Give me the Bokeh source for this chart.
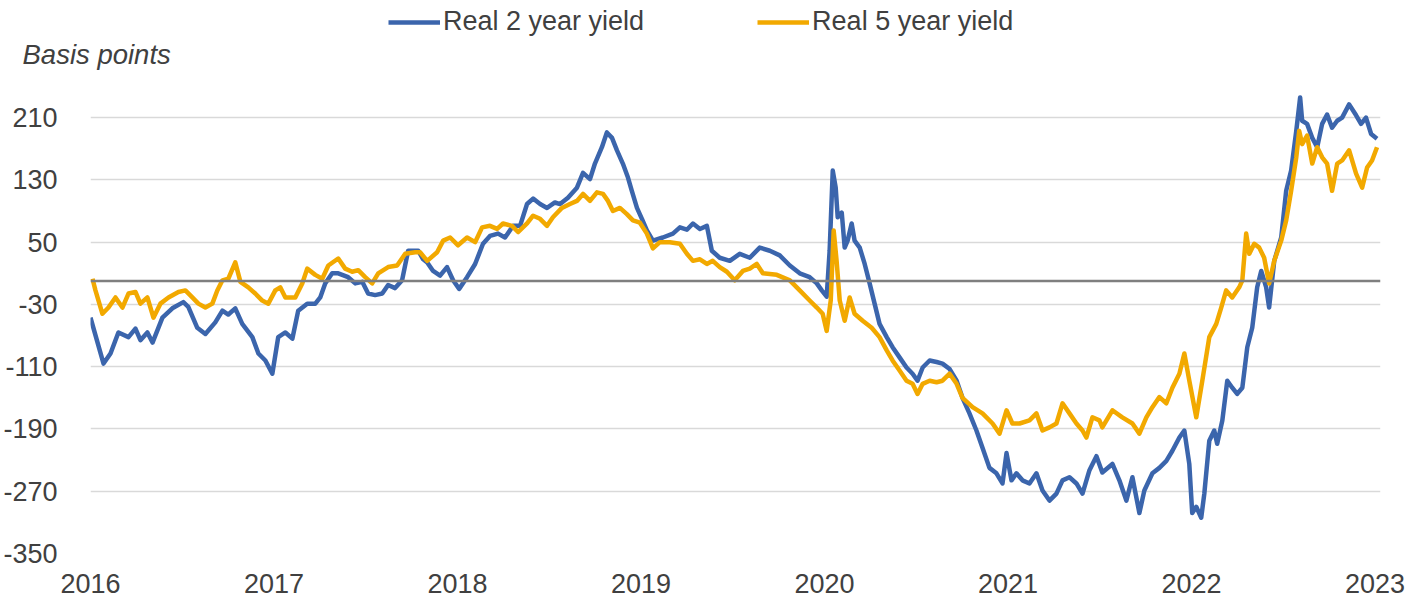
from bokeh.plotting import figure
from bokeh.layouts import column
from bokeh.models import (ColumnDataSource, FixedTicker, Span, Legend, LegendItem, Label, Range1d)
from bokeh.embed import file_html
from bokeh.resources import INLINE

# ---------------- data (decimal years, basis points) ----------------
years_2y = [2016.000, 2016.071, 2016.109, 2016.152, 2016.207, 2016.245, 2016.272, 2016.310, 2016.338, 2016.392,
            2016.446, 2016.506, 2016.533, 2016.582, 2016.626, 2016.680, 2016.719, 2016.751, 2016.789, 2016.827,
            2016.882, 2016.915, 2016.953, 2016.991, 2017.023, 2017.062, 2017.100, 2017.132, 2017.181, 2017.225,
            2017.252, 2017.279, 2017.317, 2017.350, 2017.404, 2017.443, 2017.481, 2017.513, 2017.551, 2017.590,
            2017.622, 2017.660, 2017.698, 2017.731, 2017.786, 2017.813, 2017.835, 2017.867, 2017.905, 2017.943,
            2017.976, 2018.009, 2018.052, 2018.096, 2018.139, 2018.177, 2018.221, 2018.259, 2018.303, 2018.341,
            2018.379, 2018.412, 2018.450, 2018.488, 2018.531, 2018.559, 2018.602, 2018.651, 2018.684, 2018.722,
            2018.749, 2018.787, 2018.814, 2018.842, 2018.869, 2018.901, 2018.929, 2018.950, 2018.978, 2019.005,
            2019.032, 2019.065, 2019.119, 2019.174, 2019.212, 2019.250, 2019.283, 2019.321, 2019.359, 2019.386,
            2019.429, 2019.484, 2019.538, 2019.593, 2019.647, 2019.702, 2019.756, 2019.811, 2019.865, 2019.919,
            2019.958, 2019.985, 2020.012, 2020.028, 2020.045, 2020.061, 2020.072, 2020.094, 2020.110, 2020.126,
            2020.148, 2020.164, 2020.192, 2020.219, 2020.246, 2020.273, 2020.300, 2020.339, 2020.371, 2020.409,
            2020.447, 2020.480, 2020.507, 2020.535, 2020.573, 2020.611, 2020.643, 2020.682, 2020.720, 2020.752,
            2020.790, 2020.828, 2020.861, 2020.899, 2020.937, 2020.970, 2020.992, 2021.019, 2021.046, 2021.079,
            2021.117, 2021.155, 2021.188, 2021.226, 2021.264, 2021.297, 2021.335, 2021.373, 2021.406, 2021.444,
            2021.482, 2021.514, 2021.569, 2021.607, 2021.645, 2021.678, 2021.716, 2021.743, 2021.787, 2021.825,
            2021.863, 2021.896, 2021.934, 2021.961, 2021.988, 2022.004, 2022.026, 2022.053, 2022.070, 2022.097,
            2022.124, 2022.140, 2022.168, 2022.195, 2022.222, 2022.249, 2022.277, 2022.304, 2022.331, 2022.358,
            2022.380, 2022.407, 2022.423, 2022.451, 2022.489, 2022.516, 2022.543, 2022.571, 2022.592, 2022.603,
            2022.630, 2022.658, 2022.685, 2022.712, 2022.739, 2022.766, 2022.794, 2022.821, 2022.859, 2022.897,
            2022.924, 2022.951, 2022.979, 2023.011]
real_2y = [-47, -106, -93, -66, -72, -61, -76, -66, -79, -47,
           -35, -27, -33, -60, -68, -53, -38, -43, -35, -55,
           -72, -93, -102, -119, -72, -66, -74, -38, -29, -29,
           -21, -3, 10, 10, 5, -3, -1, -16, -18, -16,
           -5, -9, 1, 39, 39, 28, 24, 13, 7, 18,
           1, -10, 5, 22, 48, 58, 61, 56, 71, 71,
           99, 106, 99, 94, 101, 99, 107, 120, 139, 131,
           151, 172, 191, 184, 168, 151, 133, 116, 94, 80,
           65, 52, 56, 61, 69, 66, 74, 67, 71, 39,
           30, 26, 35, 30, 43, 39, 33, 20, 10, 5,
           -3, -12, -20, 39, 142, 120, 82, 88, 43, 52,
           74, 52, 43, 22, -3, -29, -55, -72, -85, -98,
           -111, -119, -128, -111, -102, -104, -106, -113, -128, -150,
           -170, -192, -214, -240, -247, -260, -221, -256, -247, -256,
           -260, -247, -269, -282, -273, -256, -252, -260, -273, -243,
           -225, -246, -235, -256, -282, -252, -298, -269, -247, -240,
           -231, -218, -201, -192, -235, -298, -290, -304, -273, -205,
           -192, -209, -179, -128, -137, -145, -137, -85, -60, -8,
           13, -8, -34, 26, 56, 116, 142, 193, 236, 206,
           202, 184, 172, 202, 214, 197, 206, 210, 227, 213,
           202, 210, 189, 183]

years_5y = [2016.011, 2016.027, 2016.065, 2016.098, 2016.136, 2016.174, 2016.207, 2016.245, 2016.272, 2016.310,
            2016.343, 2016.381, 2016.425, 2016.479, 2016.517, 2016.555, 2016.588, 2016.626, 2016.664, 2016.691,
            2016.719, 2016.751, 2016.789, 2016.817, 2016.860, 2016.898, 2016.936, 2016.969, 2017.007, 2017.034,
            2017.062, 2017.116, 2017.154, 2017.181, 2017.225, 2017.263, 2017.296, 2017.350, 2017.388, 2017.426,
            2017.459, 2017.497, 2017.535, 2017.568, 2017.622, 2017.671, 2017.715, 2017.769, 2017.796, 2017.835,
            2017.889, 2017.922, 2017.960, 2018.003, 2018.052, 2018.096, 2018.134, 2018.177, 2018.216, 2018.248,
            2018.297, 2018.330, 2018.379, 2018.412, 2018.450, 2018.488, 2018.520, 2018.569, 2018.613, 2018.651,
            2018.684, 2018.722, 2018.760, 2018.793, 2018.820, 2018.847, 2018.885, 2018.923, 2018.956, 2018.994,
            2019.032, 2019.065, 2019.103, 2019.157, 2019.212, 2019.250, 2019.283, 2019.321, 2019.359, 2019.391,
            2019.429, 2019.468, 2019.511, 2019.555, 2019.593, 2019.631, 2019.664, 2019.740, 2019.811, 2019.865,
            2019.919, 2019.958, 2019.990, 2020.012, 2020.034, 2020.050, 2020.066, 2020.083, 2020.110, 2020.137,
            2020.164, 2020.208, 2020.257, 2020.300, 2020.339, 2020.371, 2020.409, 2020.447, 2020.480, 2020.507,
            2020.535, 2020.573, 2020.611, 2020.643, 2020.682, 2020.720, 2020.752, 2020.807, 2020.861, 2020.916,
            2020.954, 2020.992, 2021.024, 2021.063, 2021.117, 2021.155, 2021.188, 2021.226, 2021.264, 2021.297,
            2021.335, 2021.373, 2021.406, 2021.427, 2021.460, 2021.498, 2021.514, 2021.569, 2021.623, 2021.678,
            2021.716, 2021.754, 2021.787, 2021.825, 2021.863, 2021.896, 2021.934, 2021.961, 2021.988, 2022.026,
            2022.059, 2022.097, 2022.135, 2022.162, 2022.189, 2022.222, 2022.260, 2022.277, 2022.298, 2022.315,
            2022.342, 2022.369, 2022.396, 2022.423, 2022.451, 2022.489, 2022.516, 2022.543, 2022.571, 2022.587,
            2022.603, 2022.630, 2022.658, 2022.685, 2022.712, 2022.739, 2022.766, 2022.794, 2022.821, 2022.859,
            2022.897, 2022.930, 2022.957, 2022.984, 2023.011]
real_5y = [3, -12, -42, -34, -21, -34, -16, -14, -29, -21,
           -47, -29, -21, -14, -12, -21, -29, -34, -29, -12,
           1, 3, 24, -1, -8, -16, -25, -29, -12, -8,
           -21, -21, -3, 16, 8, 3, 20, 29, 16, 12,
           14, 5, -3, 10, 18, 20, 35, 37, 37, 26,
           37, 52, 56, 46, 56, 50, 69, 71, 67, 74,
           71, 63, 74, 84, 80, 71, 82, 94, 99, 103,
           112, 103, 114, 112, 103, 90, 94, 86, 78, 75,
           61, 42, 50, 50, 48, 35, 26, 28, 22, 26,
           18, 12, 1, 13, 16, 22, 10, 8, 1, -12,
           -25, -34, -42, -64, -25, 65, 26, -25, -51, -21,
           -42, -51, -60, -72, -89, -102, -115, -128, -132, -145,
           -132, -128, -130, -128, -119, -132, -150, -162, -170, -183,
           -196, -166, -183, -183, -179, -170, -192, -188, -183, -157,
           -170, -183, -192, -201, -175, -179, -188, -166, -175, -183,
           -196, -175, -162, -149, -157, -137, -119, -93, -128, -175,
           -128, -72, -55, -34, -12, -21, -8, 1, 61, 35,
           48, 43, 30, -3, 26, 52, 78, 116, 159, 193,
           176, 187, 151, 172, 159, 151, 116, 151, 155, 168,
           138, 120, 146, 155, 172]

year_ticks = [2016, 2017, 2018, 2019, 2020, 2021, 2022, 2023]
bp_ticks = [210, 130, 50, -30, -110, -190, -270, -350]
bp_tick_labels = ["210", "130", "50", "-30", "-110", "-190", "-270", "-350"]
series_names = ["Real 2 year yield", "Real 5 year yield"]
axis_title = "Basis points"

# ---------------- styling ----------------
BLUE = "#3B65AC"
ORANGE = "#F2A900"
TEXT = "#404040"
FONT = "Liberation Sans"
LW = 4.5
NAN = float("nan")

# ---------------- header strip: legend + unit label ----------------
head = figure(width=1421, height=86, output_backend="svg", toolbar_location=None,
              x_range=Range1d(0, 1421), y_range=Range1d(86, 0),
              x_axis_type=None, y_axis_type=None,
              min_border_left=0, min_border_right=0, min_border_top=0, min_border_bottom=0,
              background_fill_color="white", border_fill_color="white")
head.frame_align = False
head.outline_line_color = None
head.xgrid.visible = False
head.ygrid.visible = False
# legend key proxies (no visible points)
k2 = head.line(x=[NAN, NAN], y=[NAN, NAN], line_color=BLUE, line_width=LW)
k5 = head.line(x=[NAN, NAN], y=[NAN, NAN], line_color=ORANGE, line_width=LW)

legend = Legend(items=[LegendItem(label=series_names[0], renderers=[k2]),
                       LegendItem(label=series_names[1], renderers=[k5])],
                orientation="horizontal", location=(388, 49),
                glyph_width=52, glyph_height=20, label_standoff=3, spacing=113,
                padding=0, margin=0, border_line_color=None, background_fill_alpha=0,
                label_text_font=FONT, label_text_font_size="27px", label_text_color=TEXT,
                label_height=30)
head.add_layout(legend, "center")

unit_lbl = Label(x=22, y=54, text=axis_title, text_font=FONT, text_font_size="27.5px",
                 text_font_style="italic", text_color=TEXT, text_baseline="alphabetic")
head.add_layout(unit_lbl)

# ---------------- main chart ----------------
src2 = ColumnDataSource(dict(x=years_2y, y=real_2y))
src5 = ColumnDataSource(dict(x=years_5y, y=real_5y))

p = figure(width=1421, height=514, output_backend="svg", toolbar_location=None,
           x_range=(2016.0, 2023.03), y_range=(-350, 250),
           min_border_left=90, min_border_right=41, min_border_top=0, min_border_bottom=47,
           background_fill_color="white", border_fill_color="white")
p.frame_align = False
p.outline_line_color = None

p.xgrid.grid_line_color = None
p.ygrid.grid_line_color = "#D9D9D9"
p.ygrid.grid_line_width = 1.5

p.xaxis.ticker = FixedTicker(ticks=year_ticks)
p.yaxis.ticker = FixedTicker(ticks=bp_ticks)
p.yaxis.major_label_overrides = {t: l for t, l in zip(bp_ticks, bp_tick_labels)}
p.xaxis.major_label_overrides = {t: str(t) for t in year_ticks}
for ax in (p.xaxis, p.yaxis):
    ax.axis_line_color = None
    ax.major_tick_line_color = None
    ax.minor_tick_line_color = None
    ax.major_label_text_font = FONT
    ax.major_label_text_font_size = "27px"
    ax.major_label_text_color = TEXT
p.yaxis.major_label_standoff = 27
p.xaxis.major_label_standoff = 14

zero = Span(location=0, dimension="width", line_color="#7F7F7F", line_width=2.5)
p.add_layout(zero)

p.line("x", "y", source=src2, line_color=BLUE, line_width=LW, line_join="round")
p.line("x", "y", source=src5, line_color=ORANGE, line_width=LW, line_join="round")

layout = column(head, p, spacing=0)
open("out.html", "w").write(file_html(layout, INLINE))
